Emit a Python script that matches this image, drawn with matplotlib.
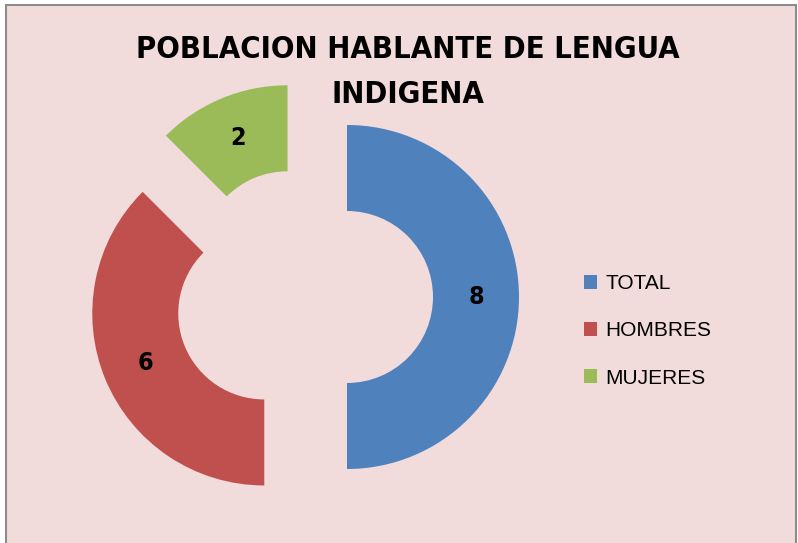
import matplotlib.pyplot as plt
from matplotlib.patches import Rectangle, Patch

# data
categories = ["TOTAL", "HOMBRES", "MUJERES"]
values = [8, 6, 2]
colors = ["#4F81BD", "#C0504D", "#9BBB59"]
title = "POBLACION HABLANTE DE LENGUA\nINDIGENA"

W, H = 798, 543
fig = plt.figure(figsize=(W / 100, H / 100), dpi=100, facecolor="white")

# chart area with grey frame
fig.patches.append(Rectangle((6 / W, -0.02), 790 / W, 1.02 - 5 / H,
                             transform=fig.transFigure, facecolor="#F2DCDB",
                             edgecolor="#8C8C8C", linewidth=1.5, zorder=-5))

# axes spanning the figure, scale ~172 px per unit radius
scale = 172.0
cx, cy = 304, H - 297
ax = fig.add_axes([0, 0, 1, 1], zorder=2)
ax.axis("off")
ax.patch.set_alpha(0)

total = sum(values)
wedges, texts, autotexts = ax.pie(
    values, colors=colors, startangle=90, counterclock=False,
    explode=[0.25] * len(values), radius=1,
    wedgeprops=dict(width=0.5, linewidth=0),
    autopct=lambda p: f"{round(p * total / 100):d}", pctdistance=0.75,
    textprops=dict(fontsize=18, fontweight="bold", color="black",
                   family="DejaVu Sans", fontstretch="condensed"),
)
ax.set_aspect("auto")
ax.set_xlim(-cx / scale, (W - cx) / scale)
ax.set_ylim(-cy / scale, (H - cy) / scale)

fig.text(408 / W, 1 - 72 / H, title, ha="center", va="center",
         fontsize=22.2, fontweight="bold", linespacing=1.7,
         family="DejaVu Sans", fontstretch="condensed")

handles = [Patch(facecolor=c, edgecolor="none") for c in colors]
fig.legend(handles, categories, loc="center left",
           bbox_to_anchor=(565 / W, 1 - 331 / H), frameon=False,
           handlelength=0.65, handleheight=0.65,
           handletextpad=0.4, labelspacing=1.35,
           prop=dict(family="Liberation Sans", size=15))

fig.savefig("out.png", dpi=100, facecolor="white")
